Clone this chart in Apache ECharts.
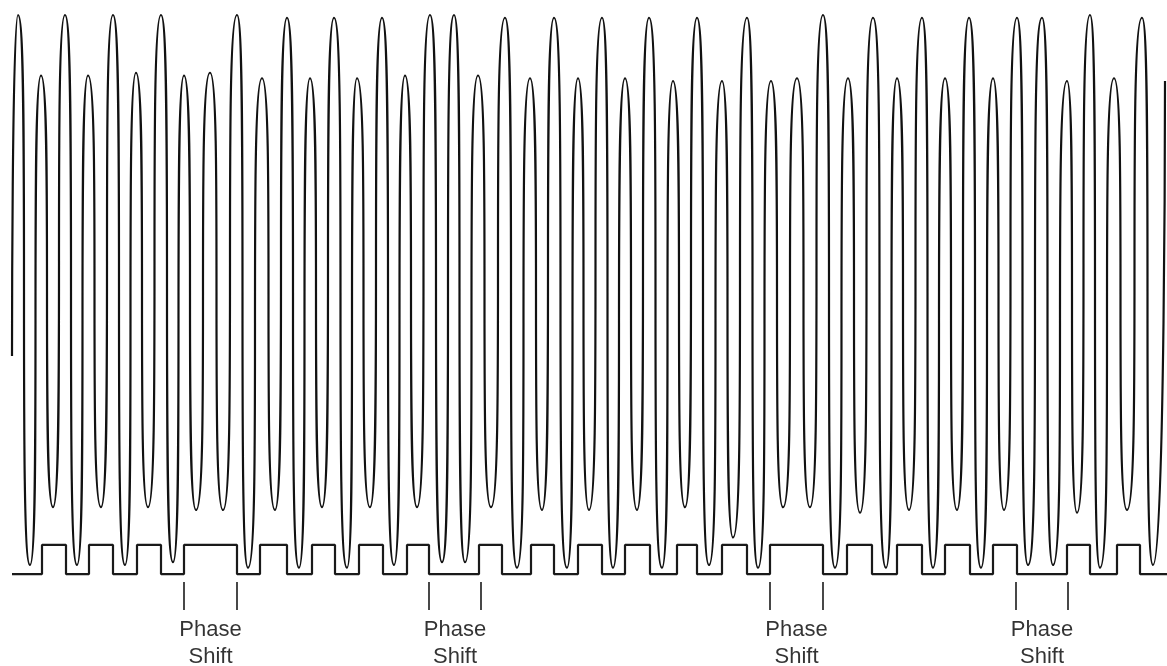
<!DOCTYPE html>
<html>
<head>
<meta charset="utf-8">
<title>Phase shift waveform</title>
<script src="https://cdn.jsdelivr.net/npm/echarts@6/dist/echarts.min.js"></script>
<style>
  html, body { margin: 0; padding: 0; background: #fff; }
  #chart { width: 1167px; height: 666px; }
</style>
</head>
<body>
<div id="chart"></div>
<script>
// read signal: extrema of the waveform (time, amplitude in % of full swing)
var waveTime = [12, 18, 30, 41, 53, 65, 77, 88, 101, 113, 125, 136, 148, 161, 173, 184, 196, 210, 223,
  237, 248, 262, 275, 287, 299, 310, 322, 334, 347, 357, 370, 382, 394, 405, 417, 430, 442, 454, 465,
  478, 491, 505, 517, 530, 542, 554, 567, 578, 589, 602, 613, 625, 637, 649, 662, 673, 685, 697, 709,
  722, 733, 747, 758, 771, 783, 797, 810, 823, 835, 848, 860, 873, 886, 897, 909, 922, 933, 945, 957,
  969, 981, 993, 1004, 1017, 1028, 1042, 1053, 1067, 1077, 1090, 1100, 1114, 1127, 1142, 1153, 1165];
var waveAmp = [-24, 100, -100, 78, -79, 100, -100, 78, -79, 100, -100, 79, -79, 100, -99, 78, -80, 79, -80,
  100, -101, 77, -80, 99, -101, 77, -79, 99, -101, 77, -79, 99, -100, 78, -79, 100, -99, 100, -99,
  78, -79, 99, -101, 77, -80, 99, -101, 77, -80, 99, -101, 77, -80, 99, -101, 76, -79, 99, -100,
  76, -90, 99, -101, 76, -79, 77, -79, 100, -101, 77, -81, 99, -101, 77, -80, 99, -101, 77, -80,
  99, -101, 77, -80, 99, -100, 99, -100, 76, -81, 100, -101, 77, -80, 99, -100, 76];

// clock square wave: edge times and the bit after each edge
var clockEdges = [12, 42, 66, 89, 113, 137, 161, 184, 237, 260, 287, 312, 335, 359, 383, 407, 429, 479,
  502, 531, 554, 578, 602, 625, 650, 677, 697, 722, 747, 770, 823, 847, 872, 897, 922, 945, 970, 993,
  1017, 1067, 1090, 1117, 1140, 1167];
var clockBits = [0, 1, 0, 1, 0, 1, 0, 1, 0, 1, 0, 1, 0, 1, 0, 1, 0, 1,
  0, 1, 0, 1, 0, 1, 0, 1, 0, 1, 0, 1, 0, 1, 0, 1, 0, 1, 0, 1,
  0, 1, 0, 1, 0, 0];

// phase shift markers
var shiftStart = [184, 429, 770, 1016];
var shiftEnd = [237, 481, 823, 1068];
var shiftLabel = 'Phase\nShift';

var CLOCK_LOW = -103.3, CLOCK_HIGH = -92.7;
var TICK_TOP = -106.2, TICK_BOTTOM = -116.4, LABEL_AMP = -128.6;

var waveData = waveTime.map(function (t, i) { return [t, waveAmp[i]]; });
var clockData = clockEdges.map(function (t, i) {
  return [t, clockBits[i] ? CLOCK_HIGH : CLOCK_LOW];
});

var tickLines = [];
shiftStart.forEach(function (t, i) {
  [t, shiftEnd[i]].forEach(function (x) {
    tickLines.push([{ coord: [x, TICK_TOP] }, { coord: [x, TICK_BOTTOM] }]);
  });
});
var labelData = shiftStart.map(function (t, i) {
  return [(t + shiftEnd[i]) / 2, LABEL_AMP];
});

var chart = echarts.init(document.getElementById('chart'), null, { renderer: 'canvas' });

var option = {
  animation: false,
  backgroundColor: '#fff',
  grid: { left: 0, right: 0, top: 0, bottom: 0 },
  xAxis: { type: 'value', min: 0, max: 1167, show: false },
  yAxis: { type: 'value', min: -136.73, max: 105.45, show: false },
  series: [{
    name: 'signal',
    type: 'line',
    data: waveData,
    smooth: 1,
    smoothMonotone: 'x',
    showSymbol: false,
    lineStyle: { color: '#111', width: 2.2 }
  }, {
    name: 'clock',
    type: 'line',
    data: clockData,
    step: 'end',
    showSymbol: false,
    lineStyle: { color: '#1a1a1a', width: 2.2 },
    markLine: {
      silent: true,
      symbol: ['none', 'none'],
      label: { show: false },
      lineStyle: { color: '#1a1a1a', width: 1.6, type: 'solid' },
      data: tickLines
    }
  }, {
    name: 'labels',
    type: 'scatter',
    data: labelData,
    symbolSize: 1,
    itemStyle: { color: 'transparent' },
    label: {
      show: true,
      position: 'inside',
      formatter: shiftLabel,
      fontFamily: 'Liberation Sans, Arial, sans-serif',
      fontSize: 22,
      lineHeight: 27,
      color: '#000',
      align: 'center',
      verticalAlign: 'middle'
    }
  }]
};

chart.setOption(option);
</script>
</body>
</html>
